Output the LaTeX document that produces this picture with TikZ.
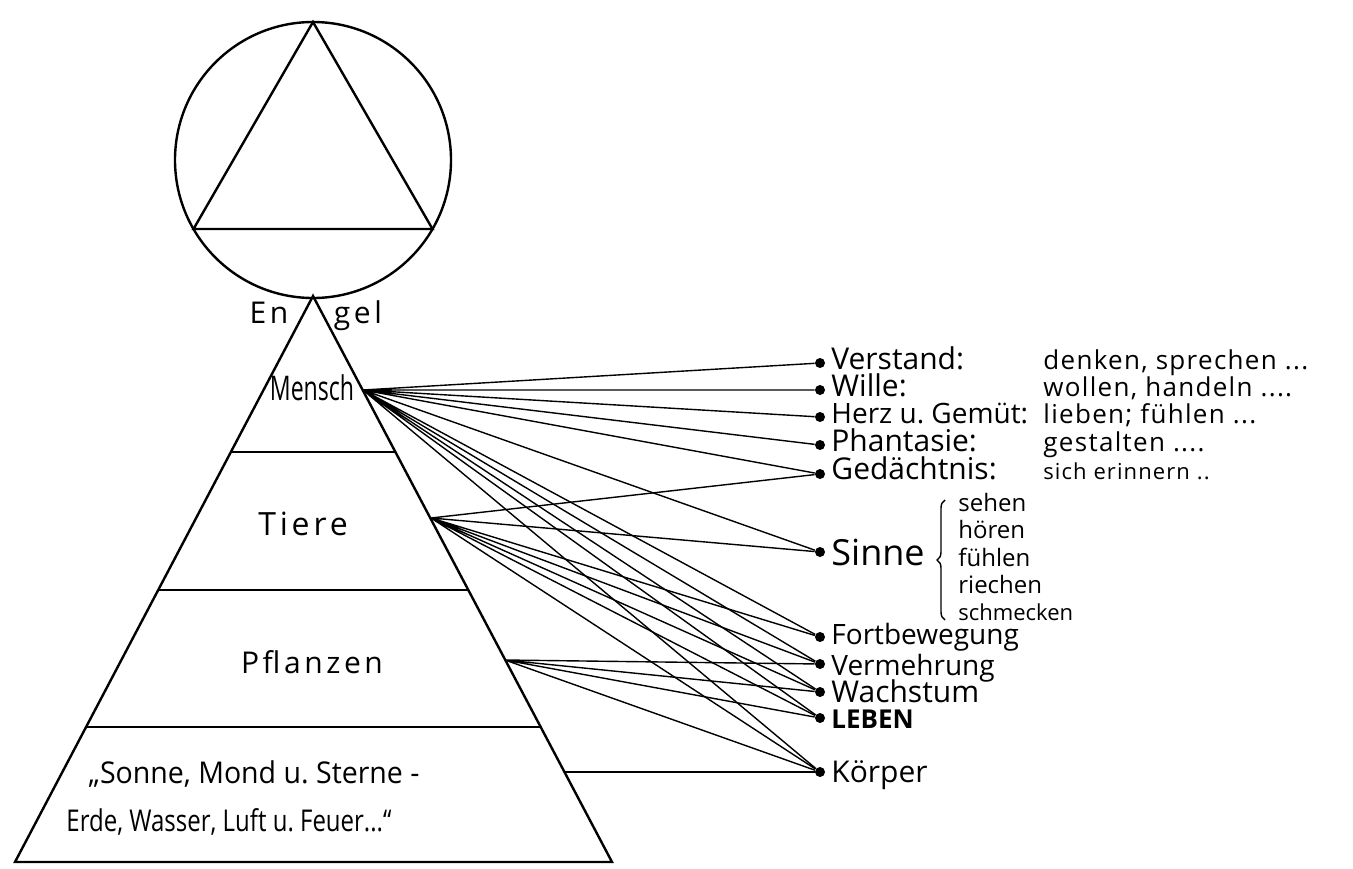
\documentclass[tikz,border=0pt]{standalone}
\usepackage{fontspec}
\usepackage{graphicx}
\setmainfont{Open Sans}
\newfontfamily\spaced[LetterSpace=12]{Open Sans}
\newfontfamily\loose[LetterSpace=5]{Open Sans}
\usetikzlibrary{decorations.pathreplacing}

\begin{document}
\begin{tikzpicture}[
    x=0.5pt, y=-0.5pt,
    edge/.style={line width=1.2pt},
    link/.style={line width=0.7pt},
    dot/.style={circle, fill=black, inner sep=0pt, minimum size=5pt},
    lbl/.style={anchor=base west, inner sep=0pt, font=\fontsize{15}{15}\selectfont},
    verb/.style={anchor=base west, inner sep=0pt, font=\fontsize{13}{13}\loose},
    sense/.style={anchor=base west, inner sep=0pt, font=\fontsize{12}{12}\selectfont},
    level/.style={inner sep=0pt, font=\fontsize{15}{15}\spaced}
]
    \useasboundingbox (0,0) rectangle (1353,868);

    % circle with triangle on top
    \draw[edge] (313,160) circle[radius=138];
    \draw[edge] (313,22) -- (193.5,229) -- (432.5,229) -- cycle;

    % pyramid
    \coordinate (apex) at (313,296);
    \draw[edge] (apex) -- (15,862) -- (612,862) -- cycle;
    \draw[edge] (231,452) -- (395,452);
    \draw[edge] (158,590) -- (468,590);
    \draw[edge] (86,727) -- (541,727);

    \node[level] (en) at (269,313) {En};
    \node[level] (gel) at (358,316) {gel};
    \node[inner sep=0pt, font=\fontsize{17}{17}\selectfont] (mensch) at (312,388) {\scalebox{0.68}[1]{Mensch}};
    \node[level, font=\fontsize{16}{16}\spaced] (tiere) at (303,524) {Tiere};
    \node[level] (pflanzen) at (312,662) {Pflanzen};
    \node[inner sep=0pt, font=\fontsize{15}{15}\selectfont] (welt1) at (254,774) {\scalebox{0.95}[1]{„Sonne, Mond u.\ Sterne -}};
    \node[inner sep=0pt, font=\fontsize{15}{15}\selectfont] (welt2) at (229,822) {\scalebox{0.8}[1]{Erde, Wasser, Luft u.\ Feuer...“}};

    % start points on the pyramid side
    \coordinate (m) at (363,390);
    \coordinate (t) at (431,518);
    \coordinate (p) at (505,660);
    \coordinate (s) at (565,772);

    % dots
    \node[dot] (verstand) at (820,363) {};
    \node[dot] (wille) at (820,390) {};
    \node[dot] (herz) at (820,417) {};
    \node[dot] (phantasie) at (820,445) {};
    \node[dot] (gedaechtnis) at (820,474) {};
    \node[dot] (sinne) at (820,552) {};
    \node[dot] (fortbew) at (820,637) {};
    \node[dot] (vermehr) at (820,664) {};
    \node[dot] (wachstum) at (820,692) {};
    \node[dot] (leben) at (820,718) {};
    \node[dot] (koerper) at (820,772) {};

    % labels
    \node[lbl] (t-verstand) at (831,369) {Verstand:};
    \node[lbl] (t-wille) at (831,396) {Wille:};
    \node[lbl, font=\fontsize{14}{14}\selectfont] (t-herz) at (831,423) {Herz u.\ Gemüt:};
    \node[lbl] (t-phantasie) at (831,451) {Phantasie:};
    \node[lbl] (t-gedaechtnis) at (831,479) {Gedächtnis:};
    \node[verb] (v-verstand) at (1043,369) {denken, sprechen ...};
    \node[verb] (v-wille) at (1043,396) {wollen, handeln ....};
    \node[verb] (v-herz) at (1043,423) {lieben; fühlen ...};
    \node[verb] (v-phantasie) at (1043,451) {gestalten ....};
    \node[verb, font=\fontsize{11}{11}\loose] (v-gedaechtnis) at (1043,479) {sich erinnern ..};

    \node[lbl, font=\fontsize{18}{18}\selectfont] (t-sinne) at (831,565) {Sinne};
    \draw[link] (945,620) -- (945,620)
        decorate[decoration={brace, amplitude=4pt}] {(945,620) -- (945,500)};
    \node[sense] (sehen) at (958,511) {sehen};
    \node[sense] (hoeren) at (958,538) {hören};
    \node[sense] (fuehlen) at (958,566) {fühlen};
    \node[sense] (riechen) at (958,593) {riechen};
    \node[sense, font=\fontsize{11}{11}\selectfont] (schmecken) at (958,620) {schmecken};

    \node[lbl, font=\fontsize{14}{14}\selectfont] (t-fortbew) at (831,644) {Fortbewegung};
    \node[lbl, font=\fontsize{14}{14}\selectfont] (t-vermehr) at (831,675) {Vermehrung};
    \node[lbl] (t-wachstum) at (831,702) {Wachstum};
    \node[lbl, font=\fontsize{13}{13}\bfseries] (t-leben) at (831,728) {LEBEN};
    \node[lbl] (t-koerper) at (831,782) {Körper};

    % connectors
    \draw[link] (m) -- (verstand) (m) -- (wille) (m) -- (herz) (m) -- (phantasie)
        (m) -- (gedaechtnis) (m) -- (sinne) (m) -- (fortbew) (m) -- (vermehr)
        (m) -- (wachstum) (m) -- (leben) (m) -- (koerper);
    \draw[link] (t) -- (gedaechtnis) (t) -- (sinne) (t) -- (fortbew) (t) -- (vermehr)
        (t) -- (wachstum) (t) -- (leben) (t) -- (koerper);
    \draw[link] (p) -- (vermehr) (p) -- (wachstum) (p) -- (leben) (p) -- (koerper);
    \draw[link] (s) -- (koerper);
\end{tikzpicture}
\end{document}
